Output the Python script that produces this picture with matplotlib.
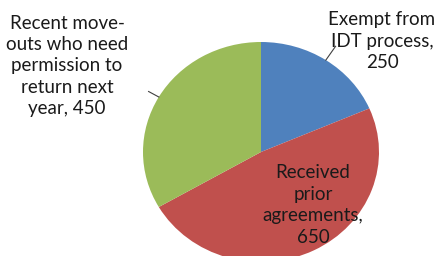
import numpy as np
import matplotlib
matplotlib.use("Agg")
import matplotlib.pyplot as plt

labels = ["Exempt from\nIDT process,\n250",
          "Received\nprior\nagreements,\n650",
          "Recent move-\nouts who need\npermission to\nreturn next\nyear, 450"]
values = [250, 650, 450]
colors = ["#4F81BD", "#C0504D", "#9BBB59"]

plt.rcParams['font.family'] = ['Lato', 'DejaVu Sans']

W, H = 435, 256
fig = plt.figure(figsize=(W / 100, H / 100), dpi=100)
# pie box in pixels: x 143..379, y 42..262 (slightly squashed like the source)
ax = fig.add_axes([143 / W, (H - 262) / H, 236 / W, 220 / H])
wedges, _ = ax.pie(values, colors=colors, startangle=90, counterclock=False,
                   wedgeprops=dict(linewidth=0))
ax.set_aspect('auto')
ax.set_xlim(-1, 1)
ax.set_ylim(-1, 1)

# label positions (pixels) and leader line lengths
pos = [(382, 41), (313, 205), (67, 66)]
leader = [1.15, None, 1.1]
for w, lab, (px, py), r in zip(wedges, labels, pos, leader):
    fig.text(px / W, 1 - py / H, lab, ha='center', va='center',
             fontsize=13.5, color='#1a1a1a', linespacing=1.32)
    if r:
        a = np.deg2rad((w.theta1 + w.theta2) / 2)
        ax.plot([np.cos(a), r * np.cos(a)], [np.sin(a), r * np.sin(a)],
                color='#404040', lw=0.8, clip_on=False)

fig.savefig("out.png", dpi=100)
